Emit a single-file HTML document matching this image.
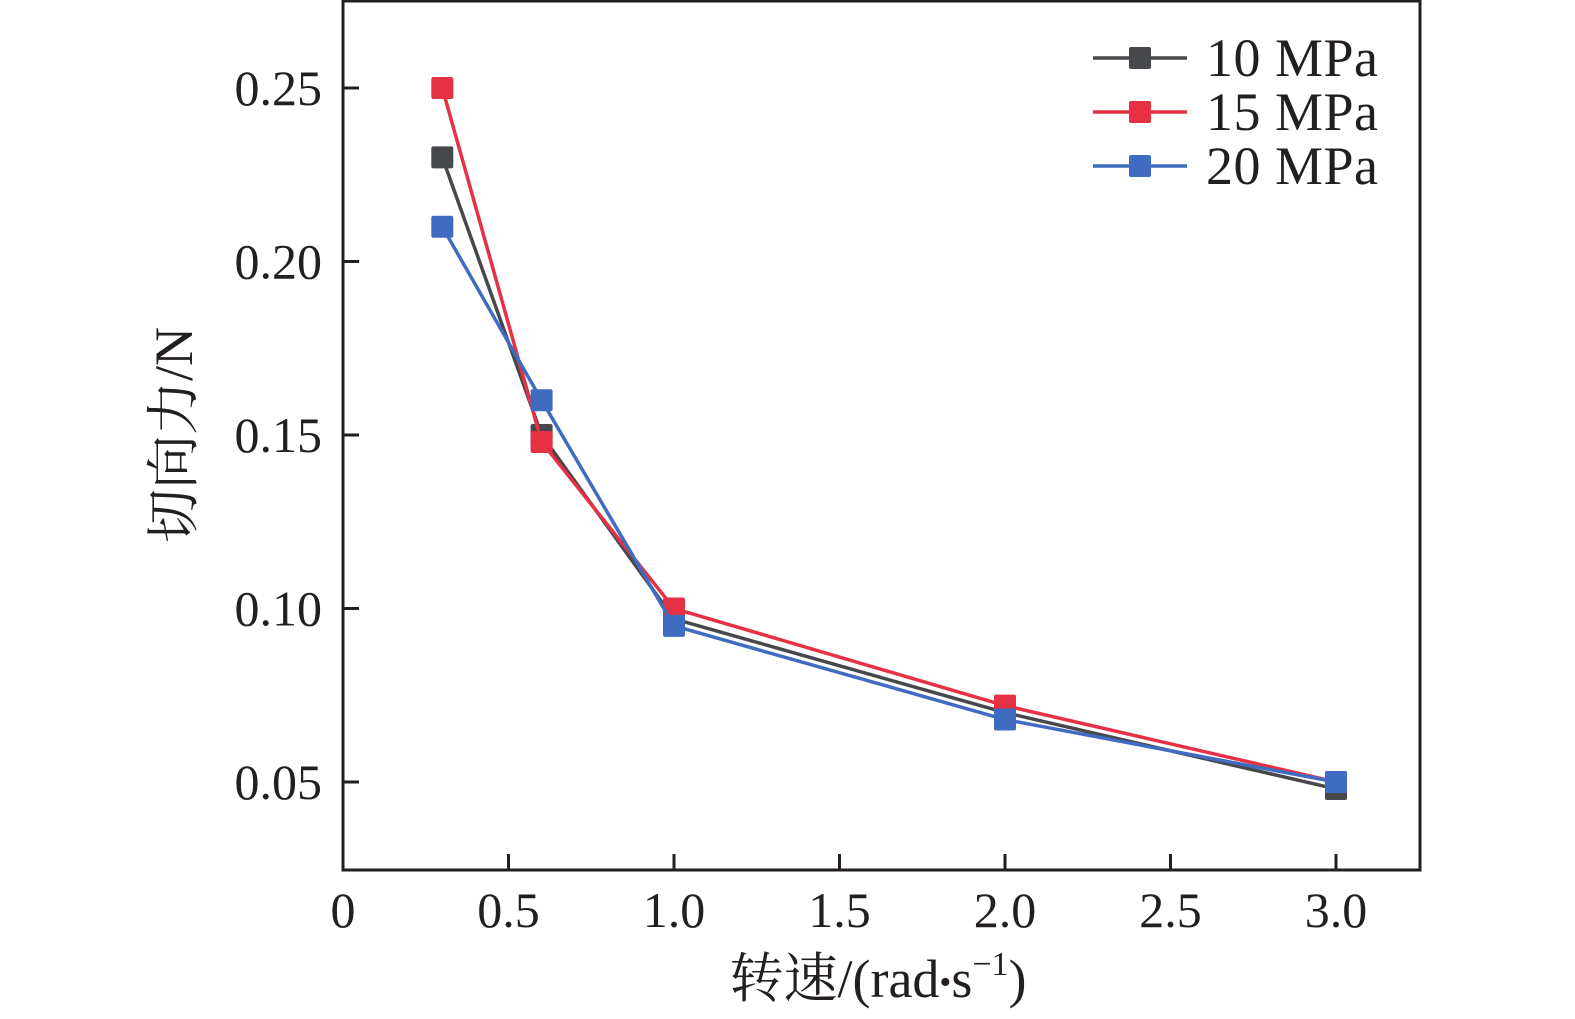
<!DOCTYPE html>
<html><head><meta charset="utf-8"><style>
html,body{margin:0;padding:0;background:#fff;}
svg{display:block;font-family:"Liberation Serif","Noto Serif CJK SC",serif;}
</style></head><body>
<svg id="chart" width="1575" height="1019">
</svg>
<script>
const xValues=[0.3,0.6,1.0,2.0,3.0];
const s10=[0.23,0.15,0.097,0.07,0.048];
const s15=[0.25,0.148,0.1,0.072,0.05];
const s20=[0.21,0.16,0.095,0.068,0.05];
const seriesNames=["10 MPa","15 MPa","20 MPa"];
const xTicks=[0,0.5,1.0,1.5,2.0,2.5,3.0];
const xTickLabels=["0","0.5","1.0","1.5","2.0","2.5","3.0"];
const yTicks=[0.05,0.10,0.15,0.20,0.25];
const yTickLabels=["0.05","0.10","0.15","0.20","0.25"];

const NS="http://www.w3.org/2000/svg";
const svg=document.getElementById('chart');
const L=343,R=1420,T=1,B=870;
const xs=v=>L+v*331;
const ys=v=>782-(v-0.05)*3470;
function mk(tag,attrs,parent){const e=document.createElementNS(NS,tag);for(const k in attrs)e.setAttribute(k,attrs[k]);(parent||svg).appendChild(e);return e;}

const box=mk('rect',{x:L,y:T,width:R-L,height:B-T,fill:'none',stroke:'#231f20','stroke-width':3});



xTicks.forEach((v,i)=>{
  if(i>0){const t=mk('line',{x1:xs(v),x2:xs(v),y1:B,y2:B-16,stroke:'#231f20','stroke-width':3});
  
  }
  const tx=mk('text',{x:xs(v),y:927,'font-size':50,'text-anchor':'middle',fill:'#231f20'});
  tx.textContent=xTickLabels[i];
  
  
});
yTicks.forEach((v,i)=>{
  const t=mk('line',{x1:L,x2:L+16,y1:ys(v),y2:ys(v),stroke:'#231f20','stroke-width':3});
  
  
  const tx=mk('text',{x:322,y:ys(v)+17,'font-size':50,'text-anchor':'end',fill:'#231f20'});
  tx.textContent=yTickLabels[i];
  
  
});

const xt=mk('text',{x:878,y:997,'font-size':54,'text-anchor':'middle',fill:'#231f20'});
xt.innerHTML='转速/(rad<tspan font-size="34" dy="-4">•</tspan><tspan dy="4">s</tspan><tspan font-size="34" dy="-22">−1</tspan><tspan dy="22">)</tspan>';


const yt=mk('text',{x:0,y:0,'font-size':54,'text-anchor':'middle',fill:'#231f20',transform:'translate(192,435) rotate(-90)'});
yt.textContent='切向力/N';



const colors=['#47484c','#e63145','#3f6cc1'];
const data=[s10,s15,s20];
[0,1,2].forEach(si=>{
  const vals=data[si];
  const g=mk('g',{});
  
  
  const pts=vals.map((v,i)=>xs(xValues[i])+','+ys(v)).join(' ');
  const pl=mk('polyline',{points:pts,fill:'none',stroke:colors[si],'stroke-width':3.5},g);
  
  
  vals.forEach((v,i)=>{
    const r=mk('rect',{x:xs(xValues[i])-11,y:ys(v)-11,width:22,height:22,rx:2,fill:colors[si]},g);
    
    
  });
});

seriesNames.forEach((n,i)=>{
  const y=58+i*54;
  const g=mk('g',{});
  
  
  mk('line',{x1:1093,x2:1187,y1:y,y2:y,stroke:colors[i],'stroke-width':3.5},g);
  mk('rect',{x:1129,y:y-11,width:22,height:22,rx:2,fill:colors[i]},g);
  const t=mk('text',{x:1206,y:y+18,'font-size':54,'textLength':172,fill:'#231f20'},g);
  t.textContent=n;
});
</script>
</body></html>
